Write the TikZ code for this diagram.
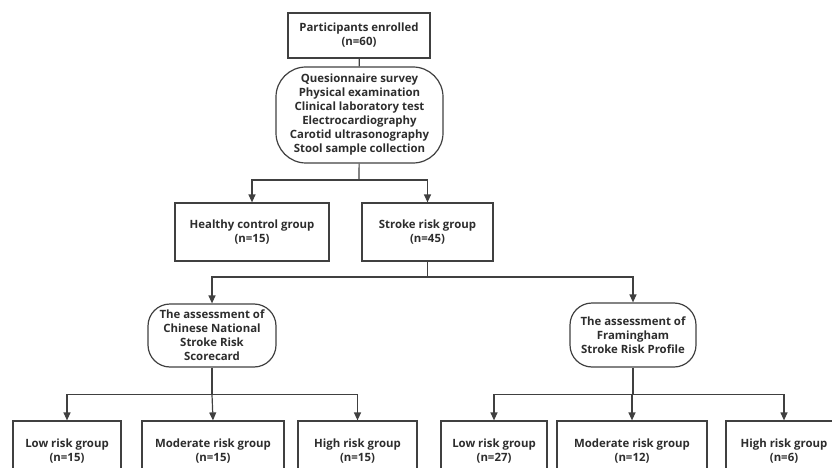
\documentclass[tikz,border=0pt]{standalone}
\usepackage{fontspec}
\setmainfont{Open Sans}
\usetikzlibrary{arrows.meta,positioning}
\definecolor{lnc}{RGB}{64,64,64}
\definecolor{txc}{RGB}{45,45,45}
\tikzset{
  box/.style={draw=lnc, line width=1.2pt, inner sep=0pt, align=center,
              text=txc, font=\fontsize{11.4}{14}\selectfont\bfseries},
  ova/.style={box, rounded corners=22pt},
  arr/.style={-{Triangle[length=8pt,width=7pt]}, lnc, line width=1.2pt},
  ln/.style={lnc, line width=1.2pt},
}

\begin{document}
\begin{tikzpicture}[x=1pt, y=-1pt]
  \useasboundingbox (0,0) rectangle (832,468);
  \clip (0,0) rectangle (832,468);
  % top
  \node[box, minimum width=142pt, minimum height=45pt] (enr) at (359,35.5) {Participants enrolled\\(n=60)};
  \node[ova, rounded corners=30pt, minimum width=167pt, minimum height=96pt] (exam) at (359.5,115)
    {Quesionnaire survey\\Physical examination\\Clinical laboratory test\\Electrocardiography\\Carotid ultrasonography\\Stool sample collection};
  % groups
  \node[box, minimum width=154pt, minimum height=58pt] (hc) at (252,232) {Healthy control group\\(n=15)};
  \node[box, minimum width=131pt, minimum height=58pt] (sr) at (427.5,232) {Stroke risk group\\(n=45)};
  % assessments
  \node[ova, minimum width=128pt, minimum height=63pt] (cn) at (212,335.5) {The assessment of\\Chinese National\\Stroke Risk\\Scorecard};
  \node[ova, minimum width=126pt, minimum height=64pt] (fr) at (633,335) {The assessment of\\Framingham\\Stroke Risk Profile};
  % risk groups
  \node[box, minimum width=108pt, minimum height=60pt] (cl) at (67,451) {Low risk group\\(n=15)};
  \node[box, minimum width=142pt, minimum height=60pt] (cm) at (213,451) {Moderate risk group\\(n=15)};
  \node[box, minimum width=119pt, minimum height=60pt] (ch) at (357.5,451) {High risk group\\(n=15)};
  \node[box, minimum width=106pt, minimum height=60pt] (fl) at (494,451) {Low risk group\\(n=27)};
  \node[box, minimum width=150pt, minimum height=60pt] (fm) at (632,451) {Moderate risk group\\(n=12)};
  \node[box, minimum width=116pt, minimum height=60pt] (fh) at (784,451) {High risk group\\(n=6)};
  % branch points
  \coordinate (b1) at (359,180);
  \coordinate (b2) at (427.5,277);
  \coordinate (b3) at (212,394.5);
  \coordinate (b4) at (633,394.5);
  % connectors
  \draw[ln] (enr) -- (exam);
  \draw[ln] (exam) -- (b1);
  \draw[arr] (b1) -| (hc.north);
  \draw[arr] (b1) -| (sr.north);
  \draw[ln] (sr) -- (b2);
  \draw[arr] (b2) -| (cn.north);
  \draw[arr] (b2) -| (fr.north);
  \draw[ln] (cn) -- (b3);
  \draw[arr] (b3) -| (cl.north);
  \draw[arr] (b3) -- (cm.north);
  \draw[arr] (b3) -| (ch.north);
  \draw[ln] (fr) -- (b4);
  \draw[arr] (b4) -| (fl.north);
  \draw[arr] (b4) -| (fm.north);
  \draw[arr] (b4) -| (fh.north);
\end{tikzpicture}
\end{document}
